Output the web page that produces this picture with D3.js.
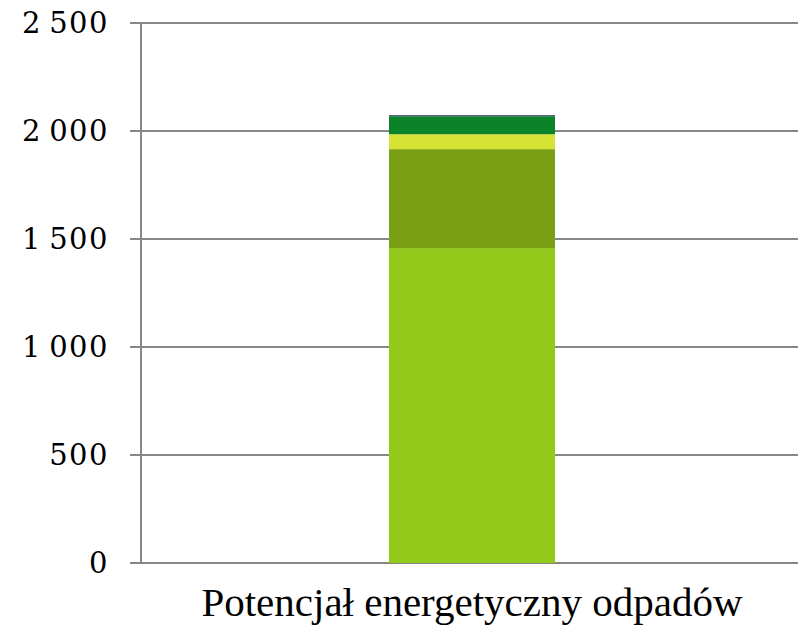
<!DOCTYPE html>
<html>
<head>
<meta charset="utf-8">
<script src="https://cdn.jsdelivr.net/npm/d3@7"></script>
<style>
  html, body { margin: 0; padding: 0; background: #fff; }
  svg { display: block; }
</style>
</head>
<body>
<svg id="chart" width="798" height="627"></svg>
<script>
// Energy potential of waste, stacked by component
const categories = ["Potencjał energetyczny odpadów"];
const seriesNames = ["s1", "s2", "s3", "s4", "s5"];
const seriesValues = [
  [1458],
  [458],
  [69],
  [83],
  [5]
];
const seriesColors = ["#92c91a", "#7a9f15", "#d6e234", "#0b8328", "#1f3a5a"];
const yTicks = [0, 500, 1000, 1500, 2000, 2500];

const svg = d3.select("#chart");
const margin = { left: 141, right: -5, top: 23, bottom: 64 };
const W = 798, H = 627;

const x = d3.scaleBand()
  .domain(categories)
  .range([margin.left, W - margin.right])
  .paddingInner(0)
  .paddingOuter(1.494);

const y = d3.scaleLinear()
  .domain([0, 2500])
  .range([H - margin.bottom, margin.top]);

const rows = categories.map((c, i) => {
  const r = { category: c };
  seriesNames.forEach((s, j) => { r[s] = seriesValues[j][i]; });
  return r;
});
const stacked = d3.stack().keys(seriesNames)(rows);

const fmt = v => d3.format(",")(v).replace(/,/g, "\u2009");

// gridlines
svg.append("g")
  .selectAll("line")
  .data(yTicks)
  .join("line")
  .attr("x1", margin.left - 11)
  .attr("x2", W)
  .attr("y1", d => y(d))
  .attr("y2", d => y(d))
  .attr("stroke", "#878787")
  .attr("stroke-width", 2);

// bars
svg.append("g")
  .selectAll("g")
  .data(stacked)
  .join("g")
  .attr("fill", (d, i) => seriesColors[i])
  .selectAll("rect")
  .data(d => d)
  .join("rect")
  .attr("x", d => x(d.data.category))
  .attr("width", x.bandwidth())
  .attr("y", d => y(d[1]))
  .attr("height", d => y(d[0]) - y(d[1]));

// y axis line
svg.append("line")
  .attr("x1", margin.left).attr("x2", margin.left)
  .attr("y1", y(2500)).attr("y2", y(0))
  .attr("stroke", "#878787")
  .attr("stroke-width", 2);

// y tick labels
svg.append("g")
  .selectAll("text")
  .data(yTicks)
  .join("text")
  .attr("x", 109)
  .attr("y", d => y(d))
  .attr("dy", "0.36em")
  .attr("text-anchor", "end")
  .attr("font-family", "'DejaVu Serif', serif")
  .attr("font-size", 29)
  .attr("letter-spacing", 1.5)
  .attr("fill", "#000")
  .text(d => fmt(d));

// category label
svg.append("g")
  .selectAll("text")
  .data(categories)
  .join("text")
  .attr("x", d => x(d) + x.bandwidth() / 2)
  .attr("y", 616)
  .attr("text-anchor", "middle")
  .attr("font-family", "'Liberation Serif', serif")
  .attr("font-size", 41)
  .attr("fill", "#000")
  .text(d => d);
</script>
</body>
</html>
